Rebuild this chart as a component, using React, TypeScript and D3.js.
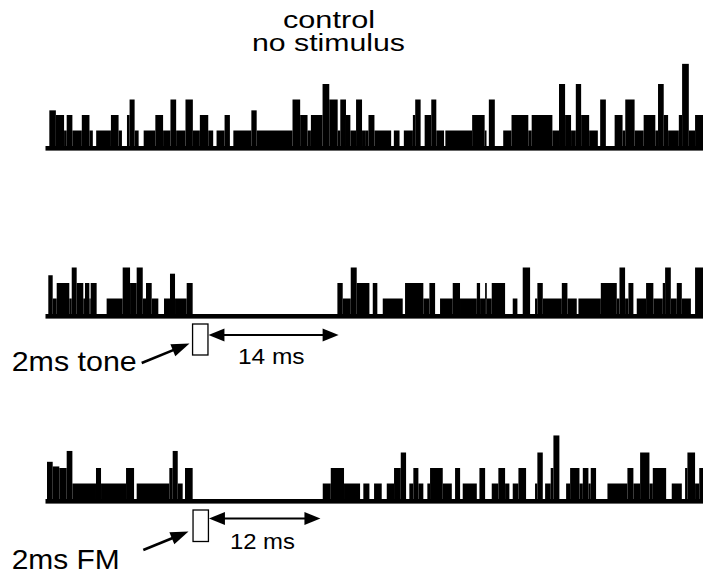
import React from 'react';
import * as d3 from 'd3';

// time axis in ms (0 .. END_MS) ; each histogram is a step series: count holds from start[i] to start[i+1]
const END_MS = 70.3;

const controlStarts = [0, 0.25, 0.95, 1.83, 2.11, 2.72, 3.73, 4.55, 4.91, 5.27, 6.85, 7.67, 8.03, 8.57, 8.85, 9.39, 9.82, 10.36, 11.61, 12.44, 13.23, 13.84, 14.84, 15.63, 16.38, 17.28, 17.81, 18.17, 19.03, 19.6, 19.97, 21.9, 22.47, 26.31, 27.13, 27.92, 28.28, 29.53, 30.25, 31.15, 31.43, 32.04, 32.51, 33.12, 33.76, 34.09, 34.45, 35.09, 36.88, 37.17, 37.78, 38.24, 39.21, 39.46, 40.04, 40.47, 41.18, 41.72, 42.55, 42.69, 45.56, 46.9, 47.1, 47.35, 47.99, 48.89, 49.78, 51.58, 51.94, 54.16, 54.87, 55.52, 56.16, 56.67, 57.24, 58.1, 59.03, 59.28, 59.89, 60.83, 61.68, 61.97, 62.97, 63.94, 65.19, 65.48, 66.09, 66.56, 67.71, 68.06, 68.78, 69.45];
const controlCounts = [0, 2.3, 2, 1, 2, 1, 2, 1, 0, 1, 2, 1, 0, 2, 3, 1, 0, 1, 2, 1, 3, 1, 3, 1, 2, 1, 0, 1, 2, 0, 1, 2.3, 1, 3, 2, 1, 2, 4, 3, 1, 3, 2, 1, 3, 1, 1, 2, 1, 0, 1, 0, 1, 2, 3, 0, 2, 3, 1, 0, 1, 2, 1, 0, 3, 0, 1, 2, 1, 2, 1, 4, 2, 1, 4, 2, 1, 0, 3, 0, 2, 1, 3, 1, 2, 1, 4, 2, 1, 2, 5.3, 1, 2];

const toneStarts = [0, 0.14, 0.61, 1.04, 2.39, 2.65, 3.18, 3.89, 4.07, 4.54, 4.68, 5.32, 6.39, 8.11, 8.9, 9.61, 10.26, 10.61, 11.22, 11.93, 12.54, 13.18, 13.72, 14.97, 15.61, 31.12, 31.69, 32.55, 33.19, 34.55, 34.91, 35.4, 35.98, 38.12, 38.37, 40.33, 40.98, 41.59, 42.12, 43.48, 44.26, 46.06, 46.41, 46.95, 47.13, 47.66, 49.09, 49.91, 50.41, 50.98, 51.77, 52.3, 52.55, 53.13, 55.17, 55.77, 56.77, 56.95, 59.35, 61.06, 61.35, 61.95, 62.31, 62.84, 63.2, 64.2, 64.98, 65.99, 66.24, 66.85, 67.49, 68.03, 69.0, 69.45];
const toneCounts = [0, 2.5, 1, 2, 1, 3, 2, 1, 2, 1, 2, 0, 1, 3, 2, 3, 1, 2, 1, 0, 1, 2.6, 1, 2, 0, 2, 1, 3, 2, 0, 2, 0, 1, 0, 2, 1, 2, 0, 1, 2, 1, 2, 1, 2, 1, 2, 0, 1, 0, 3, 0, 1, 2, 1, 2, 1, 0, 1, 2, 1, 3, 1, 2, 0, 1, 2, 1, 2, 3, 1, 2, 1, 0, 3];

const fmStarts = [0, 0.61, 1.32, 2.11, 2.72, 5.25, 5.79, 8.47, 9.33, 9.61, 13.11, 13.47, 14.01, 14.54, 14.79, 15.61, 29.55, 30.41, 31.83, 33.55, 33.9, 34.55, 35.05, 35.87, 36.41, 37.19, 37.91, 38.48, 38.83, 39.26, 39.8, 40.33, 40.76, 41.05, 42.41, 43.38, 43.73, 44.27, 44.55, 46.06, 46.34, 46.95, 47.66, 48.37, 49.09, 49.55, 49.91, 50.52, 51.34, 52.3, 52.55, 53.13, 53.38, 53.98, 54.27, 54.91, 55.63, 56.06, 57.06, 57.42, 58.02, 58.27, 58.84, 60.06, 62.2, 62.84, 63.56, 64.56, 64.92, 66.35, 66.95, 68.03, 68.38, 68.63, 69.45, 69.9];
const fmCounts = [2.4, 2.1, 2, 3.1, 1, 2, 1, 2, 0, 1, 2, 3.1, 1, 0, 2, 0, 1, 2, 1, 0, 1, 0, 1, 0, 1, 2, 3, 0, 1, 2, 1, 0, 1, 2, 1, 0, 2, 0, 1, 0, 2, 0, 1, 2, 1, 0, 1, 2, 0, 1, 3, 0, 1, 2, 4.1, 0, 1, 2, 1, 2, 1, 2, 0, 1, 2, 1, 3, 1, 2, 0, 1, 0, 2, 3, 1, 2];

// stimulus (ms) and silent gaps after it (ms)
const stimOnset = [15.6, 15.65];
const stimOffset = [17.25, 17.3];
const gapMs = [14, 12];
const stimLabels = ['2ms tone', '2ms FM'];
const gapLabels = ['14 ms', '12 ms'];
const titleLines = ['control', 'no stimulus'];

const FONT = "'Liberation Sans', Arial, Helvetica, sans-serif";

function head(tx: number, ty: number, fx: number, fy: number, len: number, half: number) {
  const dx = tx - fx, dy = ty - fy;
  const d = Math.hypot(dx, dy);
  const ux = dx / d, uy = dy / d;
  const bx = tx - ux * len, by = ty - uy * len;
  return `${tx},${ty} ${bx - uy * half},${by + ux * half} ${bx + uy * half},${by - ux * half}`;
}

export default function App() {
  const x = d3.scaleLinear().domain([0, END_MS]).range([47, 703]);
  const h = d3.scaleLinear().domain([0, 1]).range([0, 15.5]);

  const panels = [
    { starts: controlStarts, counts: controlCounts, base: 146 },
    { starts: toneStarts, counts: toneCounts, base: 314 },
    { starts: fmStarts, counts: fmCounts, base: 499 },
  ];

  const stimGeom = [
    { boxTop: 324, boxH: 31, arrowY: 335, textY: 371, gapTextY: 363.5, from: [141.7, 363], tip: [189.5, 343.5], textLen: 125, gapLen: 66.7 },
    { boxTop: 510, boxH: 31.5, arrowY: 518.5, textY: 569, gapTextY: 548.5, from: [143.3, 550], tip: [188.5, 531.5], textLen: 108, gapLen: 65 },
  ];

  return (
    <svg width={720} height={582} style={{ position: 'absolute', left: 0, top: 0, background: '#fff' }}>
      <rect x={0} y={0} width={720} height={582} fill="#fff" />
      <text x={329} y={27.5} fontFamily={FONT} fontSize={23.5} textAnchor="middle" textLength={92} lengthAdjust="spacingAndGlyphs">{titleLines[0]}</text>
      <text x={328.5} y={50.5} fontFamily={FONT} fontSize={23.5} textAnchor="middle" textLength={153} lengthAdjust="spacingAndGlyphs">{titleLines[1]}</text>

      {panels.map((p, pi) => (
        <g key={pi}>
          {p.starts.map((s, i) => {
            const c = p.counts[i];
            if (!c) return null;
            const e = i + 1 < p.starts.length ? p.starts[i + 1] : END_MS;
            const x0 = x(s), x1 = x(e);
            return <rect key={i} x={x0} y={p.base - h(c)} width={x1 - x0} height={h(c) + 1} fill="#000" />;
          })}
          <rect x={x(0) - 1.5} y={p.base} width={x(END_MS) - x(0) + 1.5} height={4.6} fill="#000" />
        </g>
      ))}

      {stimGeom.map((g, i) => {
        const bx0 = x(stimOnset[i]);
        const bx1 = x(stimOffset[i]);
        const ax1 = x(stimOffset[i] + gapMs[i]);
        const mid = (bx1 + ax1) / 2;
        return (
          <g key={i}>
            <rect x={bx0} y={g.boxTop} width={bx1 - bx0} height={g.boxH} fill="#fff" stroke="#000" strokeWidth={1.3} />
            <line x1={bx1 + 8} y1={g.arrowY} x2={ax1 - 8} y2={g.arrowY} stroke="#000" strokeWidth={2} />
            <polygon points={head(bx1 + 0.5, g.arrowY, ax1, g.arrowY, 16, 6.5)} fill="#000" />
            <polygon points={head(ax1, g.arrowY, bx1, g.arrowY, 16, 6.5)} fill="#000" />
            <text x={mid - 2} y={g.gapTextY} fontFamily={FONT} fontSize={22} textAnchor="middle" textLength={g.gapLen} lengthAdjust="spacingAndGlyphs">{gapLabels[i]}</text>
            <text x={11.7} y={g.textY} fontFamily={FONT} fontSize={28.5} textLength={g.textLen} lengthAdjust="spacingAndGlyphs">{stimLabels[i]}</text>
            <line x1={g.from[0]} y1={g.from[1]} x2={g.tip[0] - (g.tip[0] - g.from[0]) * 0.2} y2={g.tip[1] - (g.tip[1] - g.from[1]) * 0.2} stroke="#000" strokeWidth={2.6} />
            <polygon points={head(g.tip[0], g.tip[1], g.from[0], g.from[1], 18, 6.5)} fill="#000" />
          </g>
        );
      })}
    </svg>
  );
}
